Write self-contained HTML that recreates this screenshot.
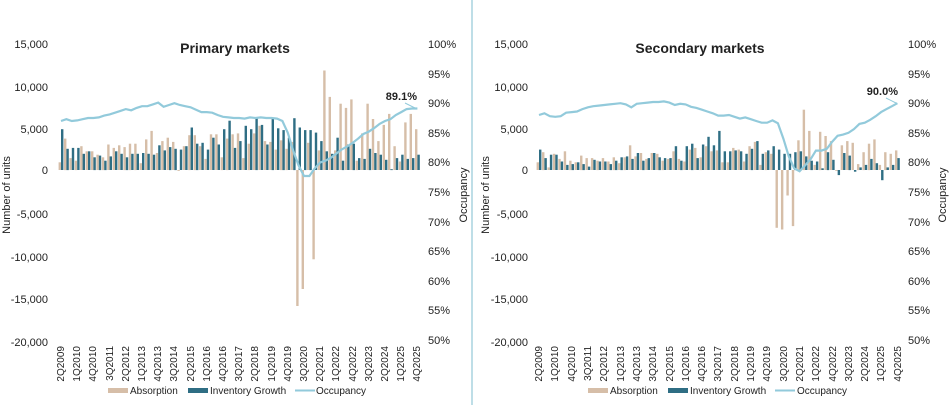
<!DOCTYPE html>
<html><head><meta charset="utf-8"><style>
body{margin:0;background:#fff;width:950px;height:405px;overflow:hidden;font-family:"Liberation Sans",Arial,sans-serif}
svg text{font-family:"Liberation Sans",Arial,sans-serif;fill:#222}
</style></head><body>
<svg id="s" width="950" height="405" viewBox="0 0 950 405" xmlns="http://www.w3.org/2000/svg">
<line x1="472" y1="0" x2="472" y2="405" stroke="#a9d3df" stroke-width="1.5"/>
<g id="g1"></g><g id="g2"></g>
<!-- Left chart text -->
<text x="235" y="53" font-size="14" font-weight="bold" text-anchor="middle">Primary markets</text>
<g font-size="11" text-anchor="end">
<text x="48" y="48">15,000</text><text x="48" y="91">10,000</text><text x="48" y="133">5,000</text><text x="48" y="174">0</text>
<text x="48" y="218">-5,000</text><text x="48" y="261">-10,000</text><text x="48" y="303">-15,000</text><text x="48" y="346">-20,000</text>
</g>
<g font-size="11">
<text x="428" y="48">100%</text><text x="428" y="78">95%</text><text x="428" y="107">90%</text><text x="428" y="137">85%</text><text x="428" y="166">80%</text><text x="428" y="196">75%</text><text x="428" y="226">70%</text><text x="428" y="255">65%</text><text x="428" y="285">60%</text><text x="428" y="314">55%</text><text x="428" y="344">50%</text>
</g>
<text transform="translate(10,195) rotate(-90)" font-size="11" text-anchor="middle">Number of units</text>
<text transform="translate(467,195) rotate(-90)" font-size="11" text-anchor="middle">Occupancy</text>
<text x="417" y="100" font-size="11" font-weight="bold" text-anchor="end">89.1%</text>
<line x1="405" y1="103" x2="415" y2="108" stroke="#92cadb" stroke-width="1"/>
<g font-size="10" text-anchor="end" id="xl1">
<text transform="translate(64,346) rotate(-90)">2Q2009</text><text transform="translate(80,346) rotate(-90)">1Q2010</text><text transform="translate(96,346) rotate(-90)">4Q2010</text><text transform="translate(113,346) rotate(-90)">3Q2011</text><text transform="translate(129,346) rotate(-90)">2Q2012</text><text transform="translate(145,346) rotate(-90)">1Q2013</text><text transform="translate(161,346) rotate(-90)">4Q2013</text><text transform="translate(177,346) rotate(-90)">3Q2014</text><text transform="translate(194,346) rotate(-90)">2Q2015</text><text transform="translate(210,346) rotate(-90)">1Q2016</text><text transform="translate(226,346) rotate(-90)">4Q2016</text><text transform="translate(242,346) rotate(-90)">3Q2017</text><text transform="translate(258,346) rotate(-90)">2Q2018</text><text transform="translate(275,346) rotate(-90)">1Q2019</text><text transform="translate(291,346) rotate(-90)">4Q2019</text><text transform="translate(307,346) rotate(-90)">3Q2020</text><text transform="translate(323,346) rotate(-90)">2Q2021</text><text transform="translate(339,346) rotate(-90)">1Q2022</text><text transform="translate(356,346) rotate(-90)">4Q2022</text><text transform="translate(372,346) rotate(-90)">3Q2023</text><text transform="translate(388,346) rotate(-90)">2Q2024</text><text transform="translate(404,346) rotate(-90)">1Q2025</text><text transform="translate(420,346) rotate(-90)">4Q2025</text>
</g>
<rect x="108" y="388" width="20" height="5" fill="#d6bea8"/><text x="130" y="394" font-size="10">Absorption</text>
<rect x="188" y="388" width="20" height="5" fill="#2f6e84"/><text x="210" y="394" font-size="10">Inventory Growth</text>
<line x1="295" y1="390.5" x2="315" y2="390.5" stroke="#92cadb" stroke-width="2"/><text x="316" y="394" font-size="10">Occupancy</text>
<!-- Right chart text -->
<text x="700" y="53" font-size="14" font-weight="bold" text-anchor="middle">Secondary markets</text>
<g font-size="11" text-anchor="end">
<text x="528" y="48">15,000</text><text x="528" y="91">10,000</text><text x="528" y="133">5,000</text><text x="528" y="174">0</text>
<text x="528" y="218">-5,000</text><text x="528" y="261">-10,000</text><text x="528" y="303">-15,000</text><text x="528" y="346">-20,000</text>
</g>
<g font-size="11">
<text x="908" y="48">100%</text><text x="908" y="78">95%</text><text x="908" y="107">90%</text><text x="908" y="137">85%</text><text x="908" y="166">80%</text><text x="908" y="196">75%</text><text x="908" y="226">70%</text><text x="908" y="255">65%</text><text x="908" y="285">60%</text><text x="908" y="314">55%</text><text x="908" y="344">50%</text>
</g>
<text transform="translate(489,195) rotate(-90)" font-size="11" text-anchor="middle">Number of units</text>
<text transform="translate(946,195) rotate(-90)" font-size="11" text-anchor="middle">Occupancy</text>
<text x="898" y="95" font-size="11" font-weight="bold" text-anchor="end">90.0%</text>
<line x1="886" y1="98" x2="896" y2="103" stroke="#92cadb" stroke-width="1"/>
<g font-size="10" text-anchor="end">
<text transform="translate(542,346) rotate(-90)">2Q2009</text><text transform="translate(558,346) rotate(-90)">1Q2010</text><text transform="translate(575,346) rotate(-90)">4Q2010</text><text transform="translate(591,346) rotate(-90)">3Q2011</text><text transform="translate(607,346) rotate(-90)">2Q2012</text><text transform="translate(624,346) rotate(-90)">1Q2013</text><text transform="translate(640,346) rotate(-90)">4Q2013</text><text transform="translate(656,346) rotate(-90)">3Q2014</text><text transform="translate(673,346) rotate(-90)">2Q2015</text><text transform="translate(689,346) rotate(-90)">1Q2016</text><text transform="translate(705,346) rotate(-90)">4Q2016</text><text transform="translate(721,346) rotate(-90)">3Q2017</text><text transform="translate(738,346) rotate(-90)">2Q2018</text><text transform="translate(754,346) rotate(-90)">1Q2019</text><text transform="translate(770,346) rotate(-90)">4Q2019</text><text transform="translate(787,346) rotate(-90)">3Q2020</text><text transform="translate(803,346) rotate(-90)">2Q2021</text><text transform="translate(819,346) rotate(-90)">1Q2022</text><text transform="translate(836,346) rotate(-90)">4Q2022</text><text transform="translate(852,346) rotate(-90)">3Q2023</text><text transform="translate(868,346) rotate(-90)">2Q2024</text><text transform="translate(884,346) rotate(-90)">1Q2025</text><text transform="translate(901,346) rotate(-90)">4Q2025</text>
</g>
<rect x="588" y="388" width="20" height="5" fill="#d6bea8"/><text x="610" y="394" font-size="10">Absorption</text>
<rect x="668" y="388" width="20" height="5" fill="#2f6e84"/><text x="690" y="394" font-size="10">Inventory Growth</text>
<line x1="775" y1="390.5" x2="795" y2="390.5" stroke="#92cadb" stroke-width="2"/><text x="797" y="394" font-size="10">Occupancy</text>
</svg>
<script>
function draw(gid,x0,step,A,I,O){
 var g=document.getElementById(gid),h='';
 var z=170,k=42.5/5000;
 for(var i=0;i<67;i++){
  var c=x0+i*step;
  var a=A[i]||0,v=I[i]||0;
  var ya=a>=0?z-a*k:z, ha=Math.abs(a)*k;
  var yv=v>=0?z-v*k:z, hv=Math.abs(v)*k;
  h+='<rect x="'+(c-2.4).toFixed(2)+'" y="'+ya.toFixed(1)+'" width="2.4" height="'+ha.toFixed(1)+'" fill="#d6bea8"/>';
  h+='<rect x="'+(c).toFixed(2)+'" y="'+yv.toFixed(1)+'" width="2.4" height="'+hv.toFixed(1)+'" fill="#2f6e84"/>';
 }
 var p=[];
 for(var i=0;i<O.length;i++){p.push((x0+i*step).toFixed(1)+','+(44+(100-O[i])*5.92).toFixed(1));}
 h+='<polyline points="'+p.join(' ')+'" fill="none" stroke="#92cadb" stroke-width="2.2"/>';
 g.innerHTML=h;
}
var A1=[900,3700,1400,1100,2800,2200,2200,1800,1500,3000,2600,2900,2700,3100,3100,800,3600,4600,2000,3400,3800,3300,-100,2800,4100,4100,2800,1300,4200,4200,1500,3700,4200,4300,1400,3100,4300,5200,3400,3300,2400,3500,2500,3300,-16000,-14000,3200,-10500,2300,11700,8600,2300,7800,7300,8300,1100,4300,7800,6000,3400,5300,6600,2800,1000,5600,6600,4800];
var I1=[4800,2500,2600,2600,1900,2200,1500,1700,1100,1600,2200,1900,1500,1900,1900,2000,1900,1800,2900,2300,2700,2500,2400,2800,5000,3100,3200,2400,3800,3000,4800,5800,2600,3400,5200,4800,6100,5300,3000,6100,4900,4700,3800,6100,5000,4700,4700,4400,3400,2200,1900,3800,1100,3000,3100,1400,1300,2500,2000,1800,1200,100,1400,1800,1300,1400,1800];
var O1=[87,87.3,87,87.1,87.3,87.5,87.5,87.6,87.9,88.1,88.4,88.7,89,88.8,89.2,89.5,89.5,89.8,90.1,89.4,89.7,90,89.7,89.5,89.3,88.9,88.5,88.5,88.4,88,87.7,87.6,87.5,87.5,87.4,87.6,87.5,87.6,87.5,87.5,87.4,87,85,82,79.5,77.7,77.7,79,80,80.3,80.8,81.5,82.2,82.7,83.3,84,84.8,85.2,85.8,86.5,87,87.3,88,88.5,89,89.1,89.1];
var A2=[900,2100,300,1900,1300,2200,1100,900,1700,1400,1400,1100,1400,1000,1500,800,1500,2900,1600,2000,1300,2000,1900,1100,1300,2200,1300,1000,2400,2600,1500,2800,2200,2300,900,900,2600,2400,1000,2800,3300,600,2100,1900,-6800,-7000,-3000,-6600,3500,7100,4600,600,4500,4000,3400,-100,2900,3400,3200,700,2100,3100,3600,600,2100,1900,2300];
var I2=[2400,1400,1800,1800,1000,600,700,900,700,400,1200,1000,1000,700,1100,1500,1600,1300,2000,1100,1400,2000,1500,1400,1400,2800,1100,2800,3100,1400,3000,3900,2900,4600,2200,2200,2300,2200,1900,2500,3400,1900,2300,2800,2400,1900,1900,2100,2200,1600,1100,1000,200,2100,1200,-600,2000,1700,-200,300,600,1300,800,-1200,300,600,1400];
var O2=[88,88.3,87.8,87.7,87.8,88.4,88.5,88.6,89,89.3,89.5,89.6,89.7,89.8,89.9,90,89.8,89.3,89.9,90,90.1,90.2,90.2,90.3,90.1,89.7,89.9,89.8,89.4,89.2,88.9,88.6,88.3,87.9,87.9,88,87.7,87.4,87.6,87.3,87,86.7,86.7,87.1,86.6,84,81,79,78.5,79.5,80.5,82,82,82.3,83.5,84.5,84.7,85,85.6,86.5,86.7,87.2,87.8,88.5,89,89.5,90];
draw('g1',61,5.4,A1,I1,O1);
draw('g2',539,5.43,A2,I2,O2);
</script>
</body></html>
